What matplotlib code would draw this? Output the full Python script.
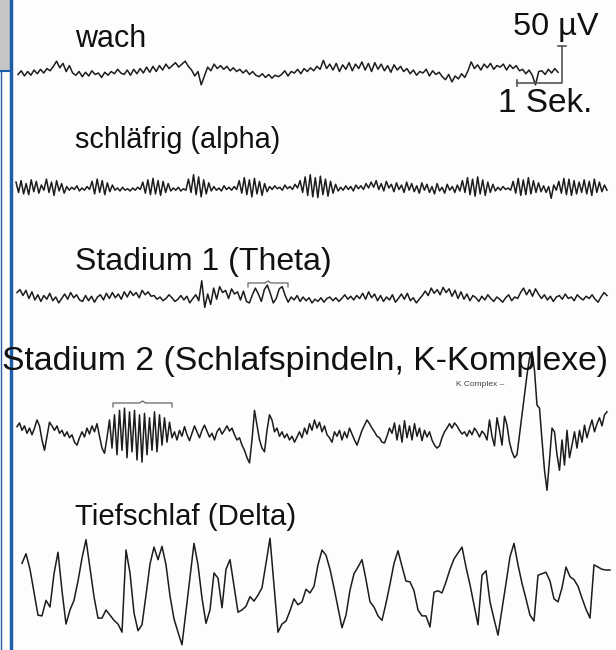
import matplotlib
matplotlib.use('Agg')
import matplotlib.pyplot as plt
import numpy as np

# eeg traces, amplitude in microvolt, samples evenly spaced in time
labels = ["wach", "schläfrig (alpha)", "Stadium 1 (Theta)",
          "Stadium 2 (Schlafspindeln, K-Komplexe)", "Tiefschlaf (Delta)"]

wach = [-2, 3, -4, 2, -3, 4, -1, 5, 0, 6, 3, 9,
        16, 7, 13, 2, 10, 0,
        -3, 2, -5, 1, -4, 3, -2, 0, -6, 1, -3,
        2, -1, 5, 0,
        -2, 4, -3, 5, -1, 6, 0, 8, 1, 9, 2, 10, 4, 12, 6,
        10, 14, 8, 12, 16, 9, 4,
        -4, 2, -16, -4,
        8, 3, 12, 6, 10, 5, 9, 3, 7, 2, 5, 0, 4, -2, 2, -3,
        -5, -1, -6, -2, -7, -3, -5,
        -2, 3, -4, 2, 0, 5, -1, 6, 2, 7, 3, 9, 5,
        17, 6, 12,
        4, 13, 2, 11, 5, 14, 3, 12, 6, 15, 4, 13, 2, 14, 5, 12, 3, 10, 1, 11, 4, 9,
        2, 6, -1, 4, -3, 2, 0, 5, -4, 3, -2, 1, -5,
        -9, -2, -12, -4, -8, -1, -6,
        3, 15, 6, 11, 4, 12, 7, 13, 5, 10,
        8, 12, 4, 11, 6, 10, 3,
        5, -1, 4, -3, -16, 2,
        3, -2, 5, 0, 6, 1]

alpha = [8, -6, 10, -8, 6, -9, 11, -5, 9, -7, 4, -3, 12, -6, 8, -10, 10, -4, 6, -7,
         2, -3, 1, -2, 3, -4, 0, -3, 2, -2,
         9, -8, 12, -6, 10, -9, 7, -5, 4, -3,
         0, -4, 1, -3, -1, -4, 0, -3, 1, -2,
         8, -7, 11, -9, 13, -8, 10, -10, 9, -6, 6, -4,
         0, -3, 1, -4, -1, -3,
         12, -6, 18, -9, 15, -12, 11, -8, 7, -4,
         2, -3, 0, -4, 3, -2, 1, -3, 2, -2,
         10, -7, 14, -9, 11, -12, 13, -8, 9, -10, 6, -5,
         2, -2, 3, -1, 1, -3, 4, -1, 2, -2, 5, 0,
         10, -6, 15, -10, 18, -12, 14, -13, 16, -9, 12, -11, 9, -7, 5, -4,
         1, -3, 3, -2, 2, -4, 4, -1, 3, -2, 6, 0,
         8, 1, 10, -2, 6, -4, 9, 0, 5, -5, 7, -2, 4, -6, 8, -3, 6, -5, 3, -7, 7, -3, 5, -6,
         2, -8, 6, -4, 1, -7, 5, -3, 2, -6, 4, -4,
         10, -6, 14, -9, 12, -11, 15, -8, 11, -10, 8, -6, 5, -4,
         1, -3, 2, -2, 0, -3,
         9, -7, 13, -10, 11, -9, 14, -8, 10, -6, 7, -5,
         3, -6, 2, -14, 4, -3,
         9, -7, 13, -9, 12, -10, 10, -8, 8, -6,
         11, -8, 9, -10, 12, -6, 8, -5, 4, -3]

theta = [6, 10, 2, 9, -2, 7, -4, 3, -6, 2, -3, 5, -5, 0, -8, -2, 4, -3, 6, -1, 3, -4,
         -6, 2, -5, 1, -7, 0, 3, -4, 5, -2, 6, -1, 4, -3, 7, 0, 8, 2, 6, -1, 9, 3, 7, 1,
         2, -3, 0, -5, -2, 3, -1, -6, -3, 2, -4, 1, -8, -2, 3, -5,
         22, -14, 4, -10, 12, -3, 14, 6, 9, -2, 11, 4, 7, -4, 8, -6,
         -8, 3, 12, 4, -6, 10, 16, 5, -8, -2, 11, 14, 2, -7, 0,
         -4, 2, -6, 0, -5, -1, -8, -3, -6, -1, -7, -2, 0, -5, -1, -6, -2, 3, -3, 1, -4, 2, -2,
         5, -3, 7, -1, 4, -5, 2, -6, 0, -4, 3, -7, -2, 4, -3, 5, -5, -1, -8, -3, 2,
         8, 2, 12, 5, 10, 3, 13, 6, 11, 1, 9, -2, 7, -3, 4, -5, 2, -1, -6,
         1, -4, 3, -2, -6, 0, -3, -7, -1, 3, -5, 0, -2,
         6, 12, 3, 10, 1, 11, 4, -2, 3, -4, 1, -6, 0,
         2, -3, 4, -2, 0, -5, 3, -1, -4, 1, -2, 3, -3, -7, 0, 6, 2]

stage2 = [14, 19, 9, 15, 5, 12, 3,
          12, 23, 15, -4, -18, 1, 20, 15,
          9, 15, 5, 9, 1, 7, -1, 3, -7, -11,
          -1, 7, 0, 12, 4, 15, 7, 18, 1, -15, -22, -1,
          23, -15, 30, -24, 36, -18, 39, -28, 34, -20, 36, -31, 30, -34, 32, -24, 26, -18,
          34, -20, 30, -11, 26, -7, 20,
          -1, 7, -4, 9, 1, 14, 3, -5, 5, 15, 7, -1, 9, 16, 8, 0, 5, -4,
          7, 12, 4, 9, 15, 8, 12, 3, -4, -1, -11,
          -18, -28, -35, -4, 36, 16, -4, -15, -20, 9, 30, 23, 7, 12, 1, 7, -1,
          4, -4, 1, -7, 0, 7, -1, 12, 4, 18, 9, 23, 12, 20, 7, 15, 3,
          -1, -7, 7, 1, 9, -4,
          7, -1, 12, 4, -4, -11, -1, 9,
          16, 23, 18, 12, 7, 1,
          -1, -7, -8, 1, 12, 5,
          19, -4, 16, -7, 22, -1, 15, -4, 18, 1, 12, -5, 9, 0, 7,
          -4, -11, -15, -12, -1, 7,
          12, 18, 12, 19, 15, 9, 4, 7,
          1, 9, 3, 12, 7, 0, 8, 4,
          -4, 23, 1, -12, 26, 9, -11, 28, 16, -7,
          -20, -28, -24,
          3, 30, 57, 84, 107, 115,
          90, 43, 39, -4, -45, -72,
          -31, 12, 7,
          -24, -45, -4, -38, 9, -28, -11,
          7, -15, 9, -7, 16, -1, 12, 23, 7, 18, 26, 15, 30, 34]

delta = [36, 49, 28, -3, -34, -35, -14, -23, 22, 51,
         -1, -46, -27, -14, 12, 43, 68, 30, -9, -38,
         -38, -27, -34, -41, -46, -57, 54, 23, -31, -55,
         -47, -7, 35, 58, 41, 59, 34, -8, -39, -57,
         -74, -28, 18, 63, 34, -11, -45, -27, 23, 16,
         -24, 28, 41, 5, -30, -27, -22, -9, -15, -7,
         3, 36, 70, 7, -57, -46, -42, -28, -12, -20,
         -16, 1, -4, 5, 34, 54, 47, 28, 3, -24,
         -51, -34, 0, 22, 31, 41, 14, -16, -23, -35,
         -41, -18, 8, 36, 53, 32, 12, 11, -1, -27,
         -35, -35, -50, -3, -1, -4, 11, 28, 42, 50,
         58, 31, 7, -20, -47, 20, 26, -16, -39, -61,
         -26, 9, 45, 63, 34, 9, -12, -34, -42, 20,
         22, 24, 12, -12, -16, 3, 31, 18, 14, 5,
         -11, -26, -38, 34, 31, 28, 27, 27]

traces = [wach, alpha, theta, stage2, delta]

# layout in pixels of the 616x650 picture
PX_PER_SEC = 45
PX_PER_UV = 37 / 50.
x_span = [(18, 558), (16, 607), (17, 607), (17, 607), (22, 610)]
baselines = [73, 188, 297, 437, 590]
label_pos = [(75, 47), (75, 148), (75, 270), (2, 370), (75, 525)]
label_size = [22, 20.8, 23, 24.3, 21.2]

ink = "#1c1c1c"
bg = "#fdfdfd"

fig = plt.figure(figsize=(6.16, 6.5), dpi=100, facecolor=bg)
ax = fig.add_axes([0, 0, 1, 1])
ax.set_xlim(0, 616)
ax.set_ylim(650, 0)
ax.axis("off")

font = "Liberation Sans"

for vals, (x0, x1), base, (tx, ty), lab, fs in zip(traces, x_span, baselines,
                                                   label_pos, labels, label_size):
    x = np.linspace(x0, x1, len(vals))
    y = base - np.array(vals) * PX_PER_UV
    ax.plot(x, y, color=ink, lw=1.1, solid_joinstyle="round")
    ax.text(tx, ty, lab, fontsize=fs, family=font, color="#111111", va="baseline")

# scale bar: 1 s horizontal, 50 uV vertical
sx = 562
sy = 83
bar_c = "#555555"
ax.plot([sx - PX_PER_SEC, sx, sx], [sy, sy, sy - 50 * PX_PER_UV], color=bar_c, lw=1.2)
ax.plot([sx - 4, sx + 4], [sy - 50 * PX_PER_UV] * 2, color=bar_c, lw=1.2)
ax.plot([sx - PX_PER_SEC] * 2, [sy - 3, sy + 3], color=bar_c, lw=1.2)
ax.text(513, 35, "50 µV", fontsize=23.4, family=font, color="#111111", va="baseline")
ax.text(498, 112, "1 Sek.", fontsize=24, family=font, color="#111111", va="baseline")

# brackets over the theta waves and the sleep spindle
for bx0, bx1, by in [(248, 288, 283), (113, 172, 403)]:
    mid = (bx0 + bx1) / 2
    ax.plot([bx0, bx0, mid - 3, mid, mid + 3, bx1, bx1],
            [by + 4, by, by, by - 2, by, by, by + 4], color="#666666", lw=0.9)

ax.text(456, 386, "K Complex –", fontsize=6, family=font, color="#444444", va="baseline")

# blue frame on the left and grey box top left
ax.plot([11, 11], [0, 650], color="#1f5ea8", lw=2.5)
ax.add_patch(plt.Rectangle((0, 0), 10, 71, facecolor="#c6c6c6", edgecolor="none"))
ax.plot([0, 11], [71, 71], color="#1f5ea8", lw=1.5)
ax.plot([0.5, 0.5], [71, 650], color="#1f5ea8", lw=1.0)

plt.savefig("out.png", dpi=100, facecolor=bg)
